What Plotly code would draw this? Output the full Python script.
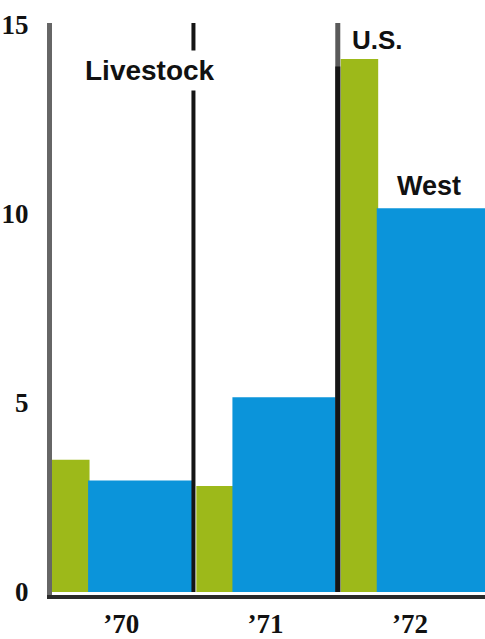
import plotly.graph_objects as go

years = ["\u201970", "\u201971", "\u201972"]
us_values = [3.5, 2.8, 14.1]
west_values = [2.95, 5.15, 10.15]
y_ticks = [0, 5, 10, 15]

x_idx = list(range(len(years)))
GREEN = "#9db91a"
BLUE = "#0b94da"

fig = go.Figure()
fig.add_trace(go.Bar(x=x_idx, y=us_values, width=0.26, offset=-0.48,
                     marker=dict(color=GREEN, line=dict(width=0)), name="U.S."))
fig.add_trace(go.Bar(x=x_idx, y=west_values, width=[0.73, 0.73, 0.76], offset=-0.23,
                     marker=dict(color=BLUE, line=dict(width=0)), name="West"))

# divider lines
fig.add_shape(type="line", xref="x", yref="y", x0=0.5, x1=0.5, y0=0, y1=15.05,
              line=dict(color="#151515", width=4), layer="above")
fig.add_shape(type="line", xref="x", yref="y", x0=1.5, x1=1.5, y0=0, y1=15.05,
              line=dict(color="#5a5a5a", width=5), layer="above")
fig.add_shape(type="line", xref="x", yref="y", x0=1.5, x1=1.5, y0=0, y1=13.9,
              line=dict(color="#151515", width=5), layer="above")

fig.add_annotation(x=0.2, y=13.8, xref="x", yref="y", text="<b>Livestock</b>", showarrow=False,
                   font=dict(family="Liberation Sans", size=28, color="#111"),
                   bgcolor="white", borderpad=4)
fig.add_annotation(x=1.586, y=14.6, xref="x", yref="y", text="<b>U.S.</b>", showarrow=False,
                   xanchor="left", font=dict(family="Liberation Sans", size=26, color="#111"))
fig.add_annotation(x=2.13, y=10.75, xref="x", yref="y", text="<b>West</b>", showarrow=False,
                   font=dict(family="Liberation Sans", size=27, color="#111"))

fig.update_layout(
    width=485, height=639,
    margin=dict(l=52, r=0, t=23, b=35),
    paper_bgcolor="white", plot_bgcolor="white",
    showlegend=False, barmode="overlay",
    font=dict(family="Liberation Serif", color="#111"),
)
fig.update_xaxes(range=[-0.48, 2.52], tickvals=x_idx, ticktext=[f"<b>{y}</b>" for y in years],
                 tickfont=dict(size=27, family="Liberation Serif"),
                 showgrid=False, zeroline=False, showline=True, linecolor="#2a2a2a",
                 linewidth=4, ticks="", ticklabelstandoff=2)
fig.update_yaxes(range=[-0.08, 15.05], tickvals=y_ticks, ticktext=[f"<b>{v}</b>" for v in y_ticks],
                 tickfont=dict(size=27, family="Liberation Serif"),
                 showgrid=False, zeroline=False, showline=True, linecolor="#666666",
                 linewidth=5, ticks="", ticklabelstandoff=13)

fig.write_html("out.html")
